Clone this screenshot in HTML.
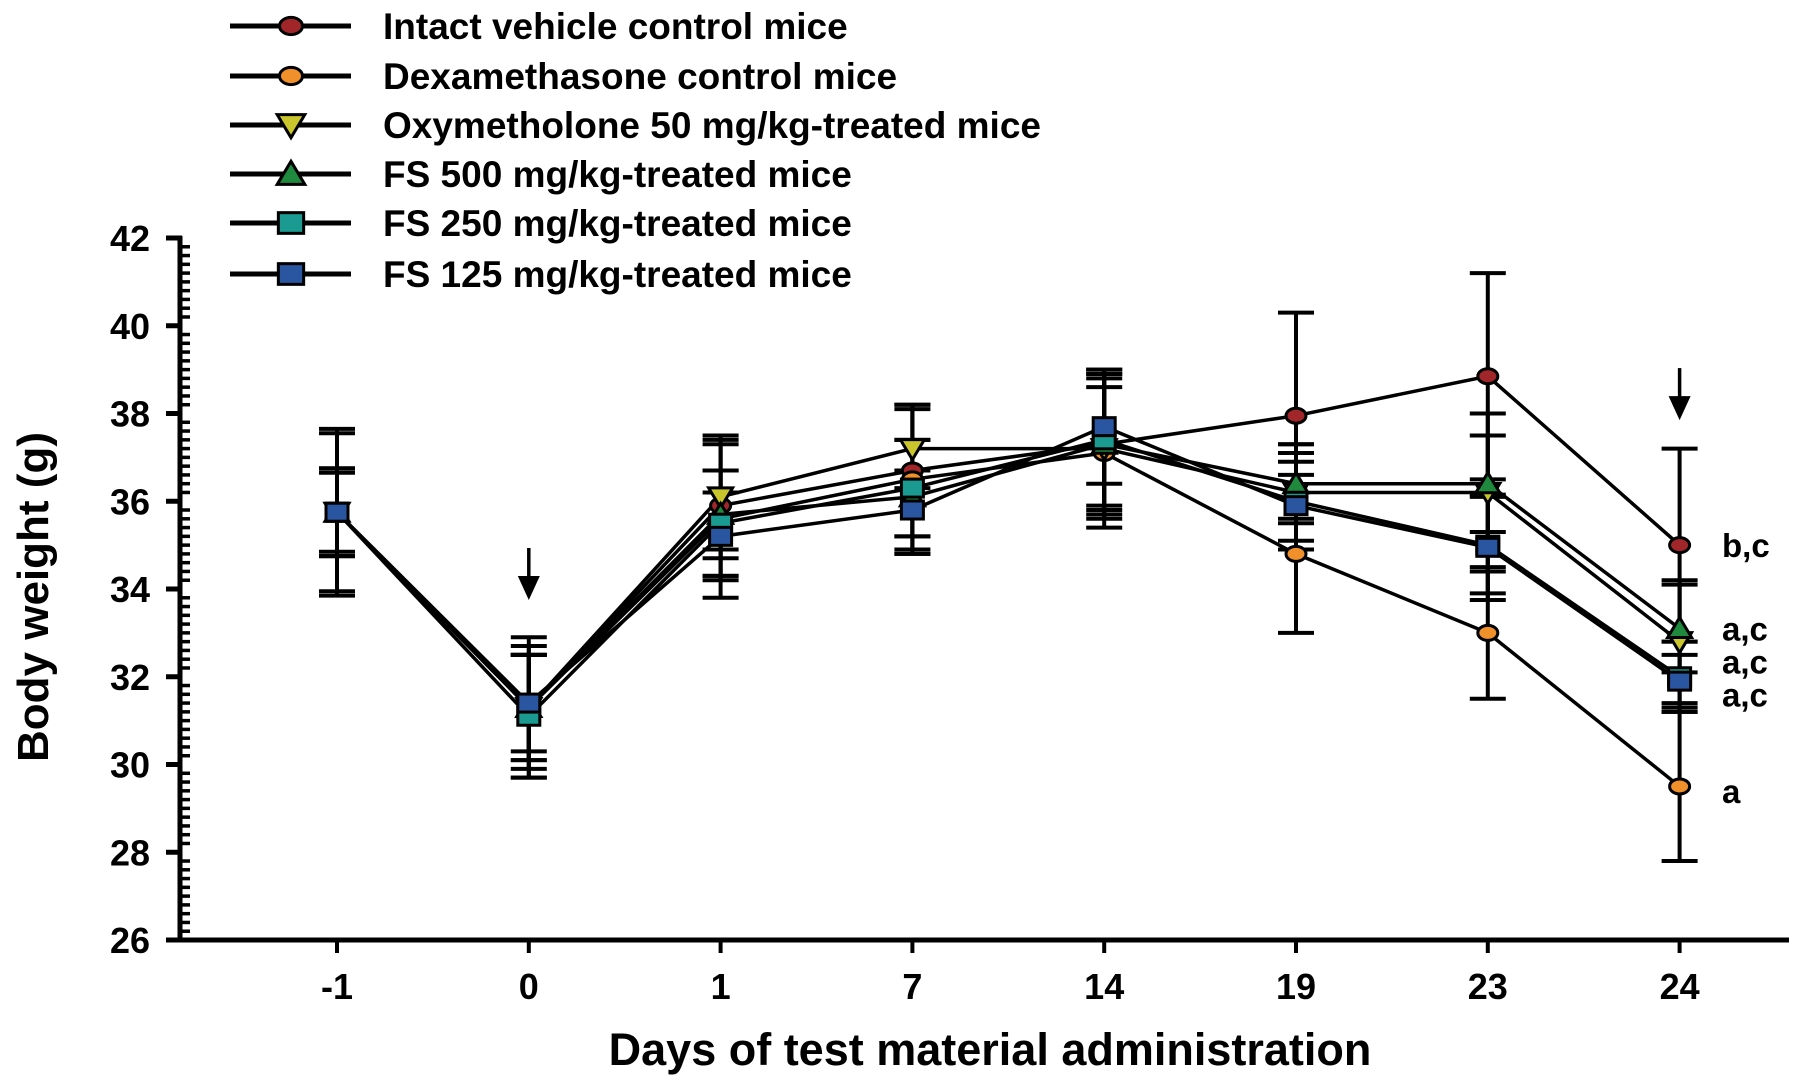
<!DOCTYPE html>
<html><head><meta charset="utf-8"><style>
html,body{margin:0;padding:0;background:#fff;}
svg{display:block;}
text{font-family:"Liberation Sans",Arial,sans-serif;font-weight:bold;fill:#000;}
</style></head><body>
<svg id="chart" width="1795" height="1082" viewBox="0 0 1795 1082" xmlns="http://www.w3.org/2000/svg"></svg>
<script>
const categories = ["-1","0","1","7","14","19","23","24"];
const yTicks = [26,28,30,32,34,36,38,40,42];
const seriesNames = ["Intact vehicle control mice","Dexamethasone control mice","Oxymetholone 50 mg/kg-treated mice","FS 500 mg/kg-treated mice","FS 250 mg/kg-treated mice","FS 125 mg/kg-treated mice"];
const intactMean = [35.75,31.3,35.9,36.7,37.3,37.95,38.85,35.0];
const intactErr = [1.8,1.4,1.6,1.5,1.7,2.35,2.35,2.2];
const dexaMean = [35.75,31.3,35.6,36.5,37.1,34.8,33.0,29.5];
const dexaErr = [1.9,1.6,1.8,1.7,1.7,1.8,1.5,1.7];
const oxyMean = [35.75,31.3,36.1,37.2,37.2,36.2,36.2,32.8];
const oxyErr = [1.0,1.2,1.2,0.9,1.4,1.1,1.8,1.4];
const fs500Mean = [35.75,31.3,35.7,36.1,37.3,36.4,36.4,33.1];
const fs500Err = [1.0,1.2,1.0,1.3,1.6,0.9,1.1,1.0];
const fs250Mean = [35.75,31.1,35.5,36.3,37.4,36.0,35.0,32.0];
const fs250Err = [1.0,1.4,1.2,1.1,1.5,1.1,1.1,0.8];
const fs125Mean = [35.75,31.4,35.2,35.8,37.7,35.9,34.95,31.9];
const fs125Err = [0.9,1.1,1.0,0.9,1.3,1.0,1.2,0.6];
const annotations = ["b,c","a,c","a,c","a,c","a"];
const annotationValues = [35.0,33.1,32.35,31.6,29.4];
const arrowDays = [1,7];
const arrowTipValues = [33.75,37.85];

const NS="http://www.w3.org/2000/svg";
const svg=document.getElementById('chart');
function el(tag,attrs,parent){const e=document.createElementNS(NS,tag);for(const k in attrs)e.setAttribute(k,attrs[k]);(parent||svg).appendChild(e);return e;}
const X0=337, DX=191.8, Y26=940, Y42=238;
function xPos(i){return X0+DX*i;}
function yPos(v){return Y26-(v-26)*(Y26-Y42)/16;}

const series=[
 {m:intactMean,e:intactErr,shape:'circle',fill:'#a0262a',key:'intact'},
 {m:dexaMean,e:dexaErr,shape:'circle',fill:'#f0902a',key:'dexa'},
 {m:oxyMean,e:oxyErr,shape:'down',fill:'#c9c52d',key:'oxy'},
 {m:fs500Mean,e:fs500Err,shape:'up',fill:'#1f8a3e',key:'fs500'},
 {m:fs250Mean,e:fs250Err,shape:'square',fill:'#1a9a90',key:'fs250'},
 {m:fs125Mean,e:fs125Err,shape:'square',fill:'#2a55a0',key:'fs125'}
];

function marker(shape,cx,cy,fill,s,parent){
  let e;
  if(shape==='circle') e=el('ellipse',{cx:cx,cy:cy,rx:10*s,ry:7.5*s,fill:fill,stroke:'#000','stroke-width':3},parent);
  else if(shape==='square') e=el('rect',{x:cx-11*s,y:cy-9*s,width:22*s,height:18*s,fill:fill,stroke:'#000','stroke-width':3},parent);
  else if(shape==='down') e=el('polygon',{points:`${cx-12*s},${cy-9*s} ${cx+12*s},${cy-9*s} ${cx},${cy+11*s}`,fill:fill,stroke:'#000','stroke-width':3},parent);
  else e=el('polygon',{points:`${cx-12*s},${cy+9*s} ${cx+12*s},${cy+9*s} ${cx},${cy-11*s}`,fill:fill,stroke:'#000','stroke-width':3},parent);
  return e;
}

const axes=el('g',{});


const yl=el('line',{x1:180,y1:Y42-2,x2:180,y2:Y26+2,stroke:'#000','stroke-width':5},axes);


const xl=el('line',{x1:178,y1:Y26,x2:1789,y2:Y26,stroke:'#000','stroke-width':5},axes);


for(let v=26;v<=42.001;v+=0.2){
  const vv=Math.round(v*10)/10;
  if(Math.abs(vv-Math.round(vv))<0.01 && Math.round(vv)%2===0) continue;
  el('line',{x1:180,y1:yPos(vv),x2:190,y2:yPos(vv),stroke:'#000','stroke-width':3.5},axes);
}
yTicks.forEach(t=>{
  el('line',{x1:166,y1:yPos(t),x2:182,y2:yPos(t),stroke:'#000','stroke-width':5},axes);
  const tx=el('text',{x:150,y:yPos(t)+13,'text-anchor':'end','font-size':36},axes);
  tx.textContent=t;
  
  
});
categories.forEach((c,i)=>{
  el('line',{x1:xPos(i),y1:Y26,x2:xPos(i),y2:Y26+13,stroke:'#000','stroke-width':4},axes);
  const tx=el('text',{x:xPos(i),y:999,'text-anchor':'middle','font-size':36},axes);
  tx.textContent=c;
  
  
});
const xt=el('text',{x:990,y:1065,'text-anchor':'middle','font-size':45});
xt.textContent='Days of test material administration';


const ytt=el('text',{x:0,y:0,'text-anchor':'middle','font-size':44,transform:'translate(48,597) rotate(-90)'});
ytt.textContent='Body weight  (g)';



series.forEach(s=>{
  const g=el('g',{});
  
  
  s.m.forEach((m,i)=>{
    const x=xPos(i),t=yPos(m+s.e[i]),b=yPos(m-s.e[i]);
    el('line',{x1:x,y1:t,x2:x,y2:b,stroke:'#000','stroke-width':4},g);
    el('line',{x1:x-18,y1:t,x2:x+18,y2:t,stroke:'#000','stroke-width':4},g);
    el('line',{x1:x-18,y1:b,x2:x+18,y2:b,stroke:'#000','stroke-width':4},g);
  });
});
series.forEach(s=>{
  const pts=s.m.map((m,i)=>xPos(i)+','+yPos(m)).join(' ');
  const p=el('polyline',{points:pts,fill:'none',stroke:'#000','stroke-width':3.5});
  
  
});
series.forEach(s=>{
  s.m.forEach((m,i)=>{
    const mk=marker(s.shape,xPos(i),yPos(m),s.fill,1);
    
    
  });
});
arrowDays.forEach((i,k)=>{
  const x=xPos(i),tip=yPos(arrowTipValues[k]);
  const g=el('g',{});
  
  
  el('line',{x1:x,y1:tip-52,x2:x,y2:tip-18,stroke:'#000','stroke-width':3.5},g);
  el('polygon',{points:`${x-11},${tip-24} ${x+11},${tip-24} ${x},${tip}`,fill:'#000'},g);
});
annotations.forEach((a,i)=>{
  const t=el('text',{x:1722,y:yPos(annotationValues[i])+12,'font-size':33});
  t.textContent=a;
  
  
});
const lg=el('g',{});


const ly=[26,76,125,174,223,274];
series.forEach((s,i)=>{
  const g=el('g',{},lg);
  
  
  el('line',{x1:230,y1:ly[i],x2:351,y2:ly[i],stroke:'#000','stroke-width':5},g);
  marker(s.shape,291,ly[i],s.fill,1.15,g);
  const t=el('text',{x:383,y:ly[i]+13,'font-size':37},g);
  t.textContent=seriesNames[i];
});
</script>
</body></html>
